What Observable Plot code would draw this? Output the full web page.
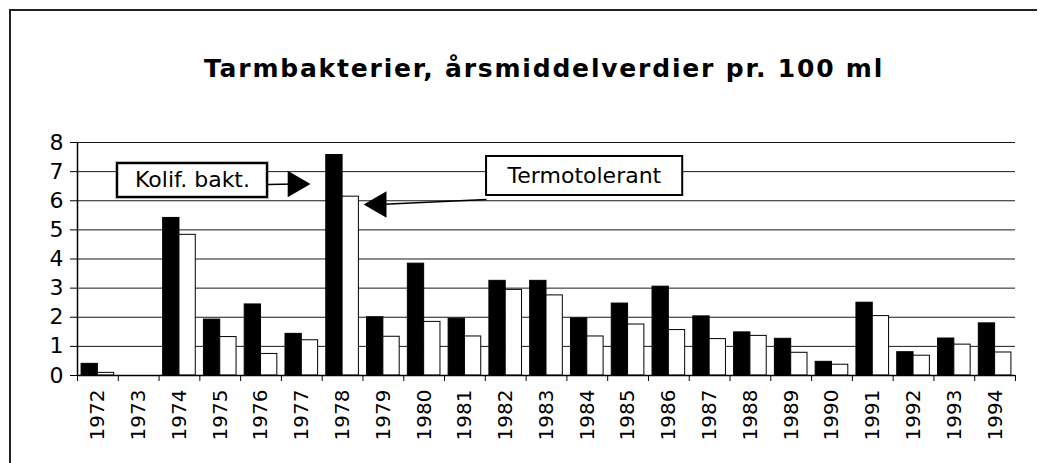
<!DOCTYPE html>
<html>
<head>
<meta charset="utf-8">
<script src="https://cdn.jsdelivr.net/npm/d3@7"></script>
<script src="https://cdn.jsdelivr.net/npm/@observablehq/plot@0.6"></script>
<style>
  html, body { margin: 0; padding: 0; background: #fff; overflow: hidden; width: 1047px; height: 463px; }
  #wrap { position: relative; width: 1047px; height: 463px; overflow: hidden; background: #fff; font-family: "DejaVu Sans", sans-serif; }
  #frameTop { position: absolute; left: 9px; top: 9px; width: 1028px; height: 0; border-top: 2px solid #222; }
  #frameLeft { position: absolute; left: 9px; top: 9px; width: 0; height: 460px; border-left: 2px solid #222; }
  #title { position: absolute; left: 544px; top: 55px; transform: translateX(-50%); white-space: nowrap; font: bold 25px "DejaVu Sans", sans-serif; letter-spacing: 1.8px; line-height: 28px; color: #000; }
  #chart { position: absolute; left: 0; top: 0; width: 1047px; height: 463px; overflow: hidden; }
  #chart svg { display: block; }
  #cover { position: absolute; left: 1039px; top: 12px; width: 8px; height: 451px; background: #fff; z-index: 10; }
</style>
</head>
<body>
<div id="wrap">
  <div id="frameTop"></div>
  <div id="frameLeft"></div>
  <div id="chart"></div>
  <div id="title">Tarmbakterier, årsmiddelverdier pr. 100 ml</div>
  <div id="cover"></div>
</div>
<script>
// Categories (years)
const years = [1972, 1973, 1974, 1975, 1976, 1977, 1978, 1979, 1980, 1981, 1982, 1983,
               1984, 1985, 1986, 1987, 1988, 1989, 1990, 1991, 1992, 1993, 1994];
// Series: Kolif. bakt. (black) and Termotolerant (white)
const kolif = [0.40, 0, 5.41, 1.92, 2.44, 1.43, 7.57, 2.00, 3.84, 1.95, 3.25, 3.25,
               1.96, 2.47, 3.05, 2.03, 1.48, 1.26, 0.47, 2.50, 0.80, 1.27, 1.79];
const termo = [0.09, 0, 4.83, 1.32, 0.74, 1.21, 6.14, 1.33, 1.84, 1.34, 2.94, 2.75,
               1.34, 1.75, 1.56, 1.25, 1.36, 0.78, 0.37, 2.04, 0.68, 1.06, 0.79];
// Y tick labels
const yTicks = [0, 1, 2, 3, 4, 5, 6, 7, 8];

// Annotation labels (in data coordinates)
const annLabels = ["Kolif. bakt.", "Termotolerant"];
const annX = [1974.82, 1984.43];
const annY = [6.70, 6.85];
const boxX1 = [1972.98, 1982.03];
const boxX2 = [1976.66, 1986.84];
const boxY1 = [6.11, 6.18];
const boxY2 = [7.28, 7.52];
const boxStroke = [2.5, 2];
const arrowX1 = [1976.66, 1982.03];
const arrowY1 = [6.56, 6.04];
const arrowX2 = [1977.34, 1979.39];
const arrowY2 = [6.575, 5.87];
const headRotate = [90, -90];

const W = 1047, H = 463;
const mL = 77, mR = 32, mT = 142, mB = 88;
const step = (W - mL - mR) / years.length;
const barW = step * 0.4;
const outer = step * 0.1;

const table = years.map((y, i) => ({year: y, x1: y, x2: y + 1, kolif: kolif[i], termo: termo[i]}));
const boxes = annLabels.map((t, i) => ({t, x: annX[i], y: annY[i], x1: boxX1[i], x2: boxX2[i], y1: boxY1[i], y2: boxY2[i], sw: boxStroke[i],
  ax1: arrowX1[i], ay1: arrowY1[i], ax2: arrowX2[i], ay2: arrowY2[i], rot: headRotate[i]}));

const plot = Plot.plot({
  width: W, height: H,
  marginLeft: mL, marginRight: mR, marginTop: mT, marginBottom: mB,
  style: {fontFamily: "DejaVu Sans, sans-serif", background: "transparent", color: "#000", overflow: "hidden"},
  x: {type: "linear", domain: [years[0], years[years.length - 1] + 1], axis: null},
  y: {domain: [0, 8], axis: null},
  marks: [
    Plot.ruleY(yTicks, {stroke: "#000", strokeWidth: 1, strokeOpacity: 0.9}),
    Plot.rectY(table, {x1: "x1", x2: "x2", y: "kolif", fill: "#000", stroke: "#000", strokeWidth: 1,
      insetLeft: outer, insetRight: step - outer - barW}),
    Plot.rectY(table, {x1: "x1", x2: "x2", y: "termo", fill: "#fff", stroke: "#000", strokeWidth: 1,
      insetLeft: outer + barW, insetRight: outer}),
    Plot.ruleY([0], {stroke: "#000", strokeWidth: 1.5}),
    Plot.ruleX([years[0]], {stroke: "#000", strokeWidth: 1.5}),
    Plot.axisY(yTicks, {tickSize: 7, tickPadding: 7, fontSize: 22, tickFormat: d => String(d), stroke: "#000"}),
    Plot.axisX(d3.range(years[0], years[years.length - 1] + 2), {tickSize: 6, tickFormat: () => "", stroke: "#000"}),
    Plot.axisX(years.map(y => y + 0.5), {tickSize: 0, tickPadding: 14, tickRotate: -90, fontSize: 20,
      tickFormat: d => String(Math.round(d - 0.5))}),
    // annotation boxes
    Plot.rect(boxes, {x1: "x1", x2: "x2", y1: "y1", y2: "y2", fill: "#fff", stroke: "#000", strokeWidth: "sw"}),
    Plot.text(boxes, {x: "x", y: "y", text: "t", fontSize: 22, fill: "#000"}),
    Plot.link(boxes, {x1: "ax1", y1: "ay1", x2: "ax2", y2: "ay2", stroke: "#000", strokeWidth: 1.5}),
    Plot.dot(boxes, {x: "ax2", y: "ay2", symbol: "triangle", r: 9.8, rotate: "rot", fill: "#000", stroke: "none"})
  ]
});
document.getElementById("chart").appendChild(plot);
</script>
</body>
</html>
